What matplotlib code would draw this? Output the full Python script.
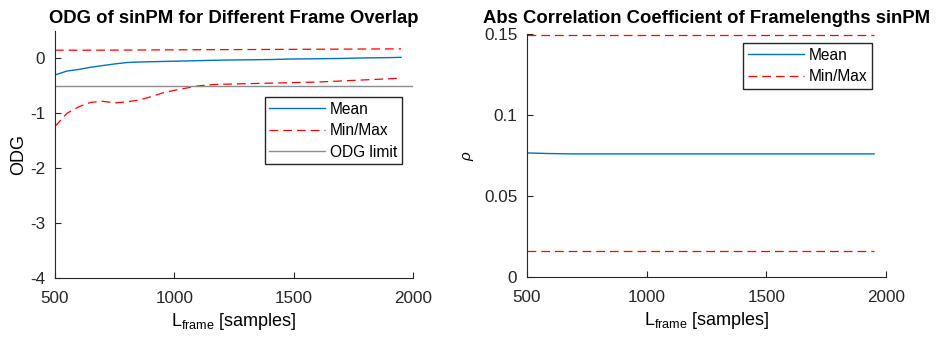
import numpy as np
import matplotlib
matplotlib.use("Agg")
import matplotlib.pyplot as plt

plt.rcParams['font.family'] = ['Liberation Sans', 'DejaVu Sans']
plt.rcParams['mathtext.fontset'] = 'custom'
plt.rcParams['mathtext.rm'] = 'Liberation Sans'
plt.rcParams['mathtext.it'] = 'Liberation Sans:italic'

# ── Data ───────────────────────────────────────────────────────────
frame_len = [500, 550, 600, 650, 700, 750, 800, 850, 900, 950, 1000, 1050, 1100,
             1150, 1200, 1300, 1400, 1500, 1600, 1700, 1800, 1900, 1950]
odg_mean = [-0.30, -0.23, -0.20, -0.16, -0.13, -0.10, -0.075, -0.065, -0.06, -0.055,
            -0.05, -0.045, -0.04, -0.035, -0.03, -0.025, -0.02, -0.01, -0.005, 0.0,
            0.01, 0.015, 0.02]
odg_max = [0.15, 0.15, 0.15, 0.15, 0.151, 0.152, 0.153, 0.154, 0.155, 0.156, 0.157,
           0.158, 0.159, 0.16, 0.161, 0.162, 0.164, 0.166, 0.168, 0.17, 0.172, 0.174, 0.175]
odg_min = [-1.24, -1.00, -0.88, -0.80, -0.78, -0.81, -0.79, -0.76, -0.70, -0.63,
           -0.58, -0.54, -0.50, -0.48, -0.47, -0.46, -0.45, -0.44, -0.43, -0.41,
           -0.39, -0.37, -0.36]
odg_limit = -0.5

rho_x = [500, 600, 700, 1000, 1500, 1950]
rho_mean = [0.0766, 0.0762, 0.0760, 0.0760, 0.0760, 0.0760]
rho_max = [0.1497, 0.1497, 0.1497, 0.1497, 0.1497, 0.1497]
rho_min = [0.0163, 0.0163, 0.0163, 0.0163, 0.0163, 0.0163]

blue = '#0072BD'
axis_col = '#262626'
xlab = r'L$_{\mathrm{frame}}$ [samples]'
dash = (7, 4)
leg_kw = dict(fontsize=11.2, fancybox=False, edgecolor=axis_col, framealpha=1,
              handlelength=3.6, borderpad=0.3, labelspacing=0.42, handletextpad=0.3,
              borderaxespad=0)

fig = plt.figure(figsize=(9.38, 3.37), dpi=100)
ax1 = fig.add_axes([0.0586, 0.175, 0.3817, 0.733])
ax2 = fig.add_axes([0.5618, 0.178, 0.3828, 0.721])

# ── Left: ODG ──────────────────────────────────────────────────────
ax1.plot(frame_len, odg_mean, color=blue, lw=1.0, label='Mean')
ax1.plot(frame_len, odg_min, color='red', lw=0.9, label='Min/Max', dashes=dash)
ax1.plot(frame_len, odg_max, color='red', lw=0.9, dashes=dash)
ax1.axhline(odg_limit, color='#8c8c8c', lw=1.0, label='ODG limit')
ax1.set_xlim(500, 2000)
ax1.set_ylim(-4, 0.5)
ax1.set_yticks([-4, -3, -2, -1, 0])
ax1.set_yticklabels(['-4', '-3', '-2', '-1', '0'])
ax1.set_title('ODG of sinPM for Different Frame Overlap', fontsize=13.3,
              fontweight='bold', pad=6)
ax1.set_ylabel('ODG', fontsize=13, labelpad=2)
ax1.set_xlabel(xlab, fontsize=13, labelpad=4)
ax1.legend(loc='upper right', bbox_to_anchor=(0.969, 0.733), **leg_kw)

# ── Right: correlation ────────────────────────────────────────────
ax2.plot(rho_x, rho_mean, color=blue, lw=1.0, label='Mean')
ax2.plot(rho_x, rho_min, color='red', lw=0.9, label='Min/Max', dashes=dash)
ax2.plot(rho_x, rho_max, color='red', lw=0.9, dashes=dash)
ax2.set_xlim(500, 2000)
ax2.set_ylim(0, 0.15)
ax2.set_yticks([0, 0.05, 0.1, 0.15])
ax2.set_yticklabels(['0', '0.05', '0.1', '0.15'])
ax2.set_title('Abs Correlation Coefficient of Framelengths sinPM', fontsize=13.3,
              fontweight='bold', pad=8)
ax2.set_ylabel(r'$\rho$', fontsize=11, labelpad=6)
ax2.set_xlabel(xlab, fontsize=13, labelpad=4)
ax2.legend(loc='upper right', bbox_to_anchor=(0.961, 0.963), **leg_kw)

for ax in (ax1, ax2):
    ax.set_xticks([500, 1000, 1500, 2000])
    for side in ('top', 'right'):
        ax.spines[side].set_visible(False)
    for side in ('left', 'bottom'):
        ax.spines[side].set_color(axis_col)
        ax.spines[side].set_linewidth(0.8)
    ax.tick_params(direction='in', length=4, width=0.8, colors=axis_col,
                   labelsize=12.3, labelcolor=axis_col)
    ax.tick_params(axis='x', pad=9)
    ax.tick_params(axis='y', pad=7)

fig.savefig('out.png', dpi=100)
